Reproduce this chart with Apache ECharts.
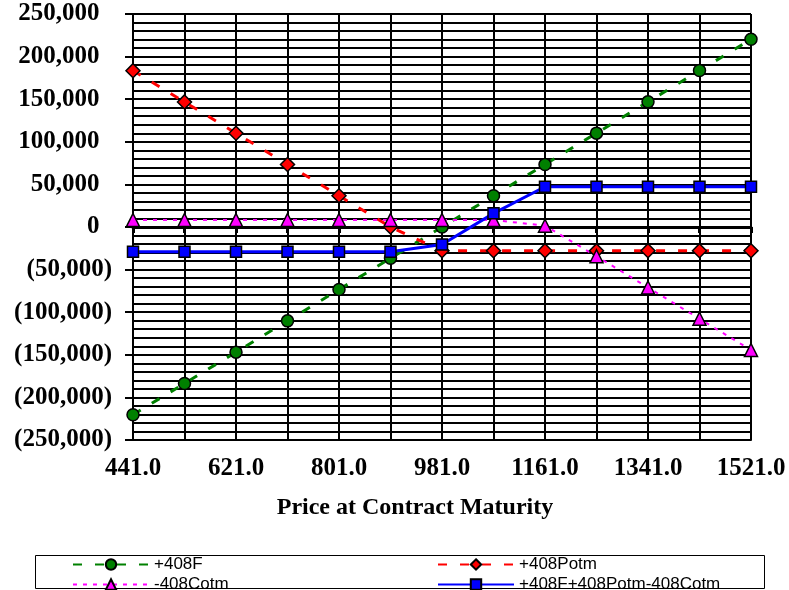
<!DOCTYPE html>
<html><head><meta charset="utf-8">
<script src="https://cdn.jsdelivr.net/npm/echarts@6/dist/echarts.min.js"></script>
<style>html,body{margin:0;padding:0;background:#fff}#c{width:789px;height:590px}</style>
</head><body><div id="c"></div>
<script>
const prices = [441,531,621,711,801,891,981,1071,1161,1251,1341,1431,1521];
const futures = [-220320,-183600,-146880,-110160,-73440,-36720,0,36720,73440,110160,146880,183600,220320];
const putOtm = [183500,146800,110100,73400,36700,0,-27800,-27800,-27800,-27800,-27800,-27800,-27800];
const callOtm = [8200,8200,8200,8200,8200,8200,8200,8200,1500,-34300,-71000,-107700,-144400];
const combined = [-29000,-29000,-29000,-29000,-29000,-29000,-20500,16000,47200,47200,47200,47200,47200];
const seriesNames = ['+408F','+408Potm','-408Cotm','+408F+408Potm-408Cotm'];
const xTitle = 'Price at Contract Maturity';
const yMin = -250000, yMax = 250000, yStep = 50000;

const cats = prices.map(String);
const fmtNum = v => Math.abs(v).toLocaleString('en-US');
const yFmt = v => v < 0 ? '(' + fmtNum(v) + ')' : fmtNum(v) + '\u2002';
const serif = 'Liberation Serif, Times New Roman, serif';
const sans = 'Liberation Sans, Arial, sans-serif';
const mk = (color) => ({ color: color, borderColor: '#000', borderWidth: 1.5 });
const legendBase = {
  type: 'plain', orient: 'vertical', top: 556, height: 60, padding: 0,
  itemWidth: 76, itemHeight: 13, itemGap: 3,
  textStyle: { fontFamily: sans, fontSize: 17, lineHeight: 15, color: '#000' }
};

const chart = echarts.init(document.getElementById('c'), null, { renderer: 'canvas' });
chart.setOption({
  animation: false,
  backgroundColor: '#fff',
  grid: { left: 133, right: 38, top: 14, bottom: 150, containLabel: false },
  xAxis: [{
    type: 'category', data: cats, boundaryGap: false, position: 'bottom',
    axisLine: { onZero: false, lineStyle: { color: '#000', width: 2 } },
    axisTick: { show: false },
    axisLabel: { interval: 1, margin: 16, formatter: v => Number(v).toFixed(1),
      fontFamily: serif, fontWeight: 'bold', fontSize: 25, color: '#000' },
    splitLine: { show: true, interval: 0, lineStyle: { color: '#000', width: 2 } }
  }, {
    type: 'category', data: cats, boundaryGap: false, position: 'bottom',
    axisLine: { onZero: true, lineStyle: { color: '#000', width: 3 } },
    axisTick: { show: true, interval: 0, length: 6, lineStyle: { color: '#000', width: 3 } },
    axisLabel: { show: false },
    splitLine: { show: false }
  }],
  yAxis: {
    type: 'value', min: yMin, max: yMax, interval: yStep,
    axisLine: { show: true, lineStyle: { color: '#000', width: 2 } },
    axisTick: { show: true, length: 8, lineStyle: { color: '#000', width: 2 } },
    minorTick: { show: false, splitNumber: 5 },
    axisLabel: { formatter: yFmt, margin: 21, fontFamily: serif, fontWeight: 'bold', fontSize: 25, color: '#000' },
    splitLine: { show: true, lineStyle: { color: '#000', width: 2 } },
    minorSplitLine: { show: true, lineStyle: { color: '#000', width: 2 } }
  },
  legend: [
    Object.assign({}, legendBase, { left: 72, data: [seriesNames[0], seriesNames[2]] }),
    Object.assign({}, legendBase, { left: 437, data: [seriesNames[1], seriesNames[3]] })
  ],
  graphic: [{
    type: 'rect', shape: { x: 35.5, y: 555.5, width: 729, height: 33 },
    style: { fill: null, stroke: '#000', lineWidth: 1 }, silent: true
  }, {
    type: 'text', x: 415, y: 508,
    style: { text: xTitle, fontFamily: serif, fontWeight: 'bold', fontSize: 24, fill: '#000',
      textAlign: 'center', textVerticalAlign: 'middle' }
  }],
  series: [{
    name: seriesNames[0], type: 'line', data: futures, xAxisIndex: 0,
    symbol: 'circle', symbolSize: 12,
    lineStyle: { color: '#008000', width: 3, type: [9, 13] }, itemStyle: mk('#008000')
  }, {
    name: seriesNames[1], type: 'line', data: putOtm, xAxisIndex: 0,
    symbol: 'diamond', symbolSize: 14,
    lineStyle: { color: '#ff0000', width: 3, type: [9, 13] }, itemStyle: mk('#ff0000')
  }, {
    name: seriesNames[2], type: 'line', data: callOtm, xAxisIndex: 0,
    symbol: 'triangle', symbolSize: 13,
    lineStyle: { color: '#ff00ff', width: 2, type: [4, 6] }, itemStyle: mk('#ff00ff')
  }, {
    name: seriesNames[3], type: 'line', data: combined, xAxisIndex: 0,
    symbol: 'rect', symbolSize: 11,
    lineStyle: { color: '#0000ff', width: 3 }, itemStyle: mk('#0000ff')
  }]
});
</script></body></html>
